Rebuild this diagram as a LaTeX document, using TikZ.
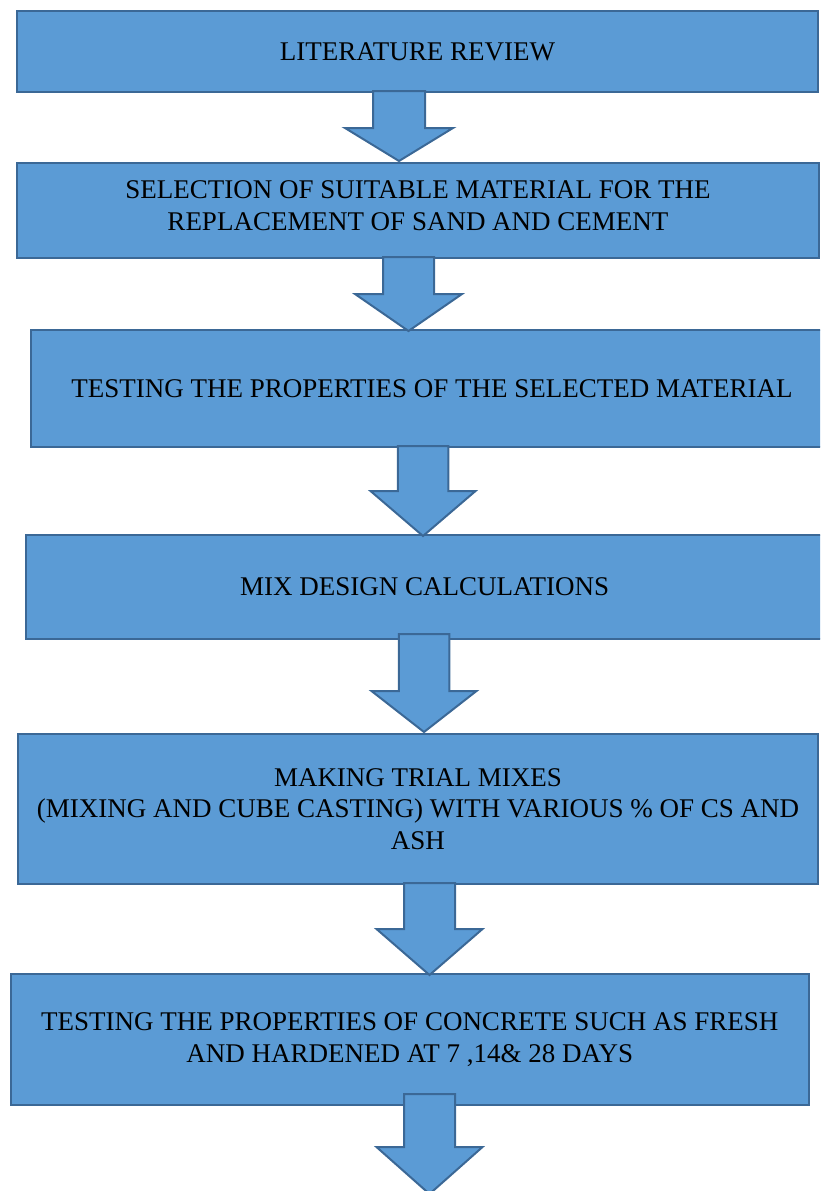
\documentclass[tikz,border=0pt]{standalone}
\usepackage{fontspec}
\setmainfont{Liberation Serif}
\definecolor{boxfill}{HTML}{5B9BD5}
\definecolor{boxline}{HTML}{3B6896}
\newcommand{\blockarr}[6]{% cx, half shaft, top, head y, half head, tip
  \draw[blockarrow] (#1-#2,#3) -- (#1-#2,#4) -- (#1-#5,#4) -- (#1,#6) -- (#1+#5,#4) -- (#1+#2,#4) -- (#1+#2,#3) -- cycle;}
\begin{document}
\begin{tikzpicture}[x=1pt,y=-1pt,
  stepbox/.style={draw=boxline, fill=boxfill, line width=2pt, align=center, inner sep=0pt, anchor=north west,
    font=\fontsize{27}{31.5}\selectfont},
  steptext/.style={align=center, inner sep=0pt, font=\fontsize{27}{31.5}\selectfont},
  blockarrow/.style={draw=boxline, fill=boxfill, line width=2pt, line join=miter}]
\useasboundingbox (0,0) rectangle (820,1191);
\clip (0,0) rectangle (820,1191);
\node[stepbox, minimum width=801pt, minimum height=81pt] (b1) at (16,10) {LITERATURE REVIEW};
\node[stepbox, minimum width=802pt, minimum height=95pt] (b2) at (16,162) {};
\node[steptext] (b2t) at ([yshift=5pt]b2.center) {SELECTION OF SUITABLE MATERIAL FOR THE\\REPLACEMENT OF SAND AND CEMENT};
\node[stepbox, minimum width=802pt, minimum height=117pt] (b3) at (30,329) {TESTING THE PROPERTIES OF THE SELECTED MATERIAL};
\node[stepbox, minimum width=798pt, minimum height=104pt] (b4) at (24.6,534) {MIX DESIGN CALCULATIONS};
\node[stepbox, minimum width=800pt, minimum height=150pt] (b5) at (17,733) {MAKING TRIAL MIXES\\(MIXING AND CUBE CASTING) WITH VARIOUS \% OF CS AND\\ASH};
\node[stepbox, minimum width=798.5pt, minimum height=131pt] (b6) at (9.5,973) {TESTING THE PROPERTIES OF CONCRETE SUCH AS FRESH\\AND HARDENED AT 7 ,14\& 28 DAYS};
\blockarr{399}{26}{91}{128}{54}{161}
\blockarr{408.5}{25.5}{257}{294}{53.5}{331}
\blockarr{423}{25.25}{446}{491}{52.5}{536}
\blockarr{424}{25.25}{634}{691}{52.5}{732}
\blockarr{429.5}{25.5}{883}{929}{53}{975}
\blockarr{429.5}{25.5}{1094}{1147}{53}{1194}
\end{tikzpicture}
\end{document}
